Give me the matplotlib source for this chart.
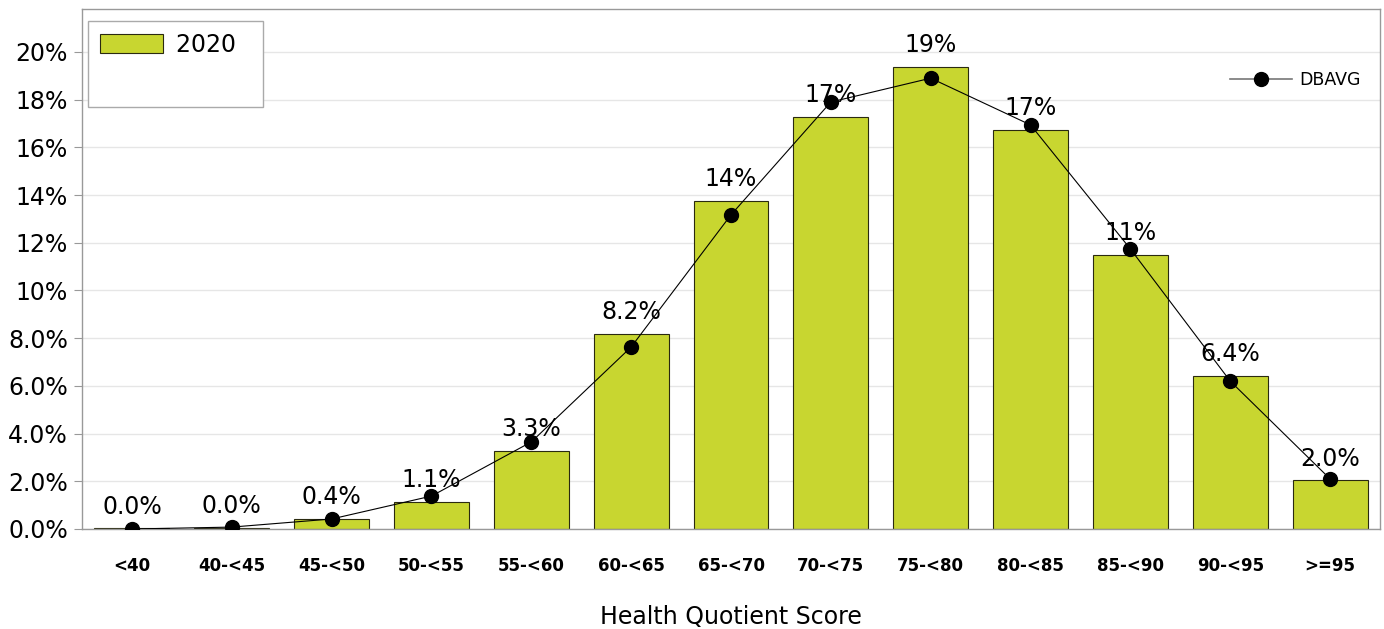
import matplotlib
matplotlib.use("Agg")
import matplotlib.pyplot as plt
from matplotlib.patches import Patch
from matplotlib.lines import Line2D
from matplotlib.ticker import FuncFormatter, MultipleLocator

categories = ["<40", "40-<45", "45-<50", "50-<55", "55-<60", "60-<65", "65-<70",
              "70-<75", "75-<80", "80-<85", "85-<90", "90-<95", ">=95"]
share_2020 = [0.03, 0.04, 0.42, 1.13, 3.27, 8.18, 13.75, 17.27, 19.37, 16.73, 11.49, 6.42, 2.04]
dbavg = [0.0, 0.08, 0.42, 1.38, 3.65, 7.63, 13.17, 17.9, 18.9, 16.94, 11.74, 6.2, 2.1]


def pct(v):
    return f"{v:.0f}%" if abs(v) >= 9.95 else f"{v:.1f}%"


plt.rcParams["font.family"] = ["DejaVu Sans"]
fig = plt.figure(figsize=(13.84, 6.29), dpi=100)
ax = fig.add_axes([82 / 1384, 100 / 629, 1298 / 1384, 520 / 629])

x = list(range(len(categories)))
bars = ax.bar(x, share_2020, width=0.75, color="#C8D630", edgecolor="#2a2a10",
              linewidth=0.8, zorder=2, label="2020")
ax.plot(x, dbavg, color="black", linewidth=0.8, marker="o", markersize=10,
        markerfacecolor="black", zorder=3)

for xi, v in zip(x, share_2020):
    ax.annotate(pct(v), (xi, v), xytext=(0, 7), textcoords="offset points",
                ha="center", va="bottom", fontsize=17, zorder=4)

ax.set_xlim(-0.5, len(categories) - 0.5)
ax.set_ylim(0, 21.8)
ax.yaxis.set_major_locator(MultipleLocator(2))
ax.yaxis.set_major_formatter(FuncFormatter(lambda v, _: pct(v)))
ax.set_xticks(x)
ax.set_xticklabels(categories, fontsize=12, fontweight="bold")
ax.tick_params(axis="x", length=0, pad=20)
ax.tick_params(axis="y", length=6, color="#999999", labelsize=17, pad=4)
ax.grid(axis="y", color="#e6e6e6", linewidth=1, zorder=0)
ax.set_axisbelow(True)
for s in ax.spines.values():
    s.set_color("#999999")
    s.set_linewidth(1)

ax.set_xlabel("Health Quotient Score", fontsize=17, labelpad=22)

leg1 = ax.legend(
    handles=[Patch(facecolor="#C8D630", edgecolor="#2a2a10", linewidth=0.8),
             Patch(facecolor="none", edgecolor="none")],
    labels=["2020  ", " "],
    loc="upper left", bbox_to_anchor=(0.0045, 0.977), fontsize=17,
    handlelength=2.7, handleheight=0.85, fancybox=False, edgecolor="#aaaaaa",
    framealpha=1, borderpad=0.5, labelspacing=0.6, borderaxespad=0,
    handletextpad=0.55)
leg1.get_frame().set_linewidth(1)
ax.add_artist(leg1)

leg2 = ax.legend(
    handles=[Line2D([], [], color="#777777", linewidth=1.2, marker="o",
                    markersize=10, markerfacecolor="black", markeredgecolor="black")],
    labels=["DBAVG"], loc="upper right", bbox_to_anchor=(0.997, 0.91),
    frameon=False, fontsize=12.5, handlelength=3.6, handletextpad=0.4)

fig.savefig("out.png", dpi=100)
